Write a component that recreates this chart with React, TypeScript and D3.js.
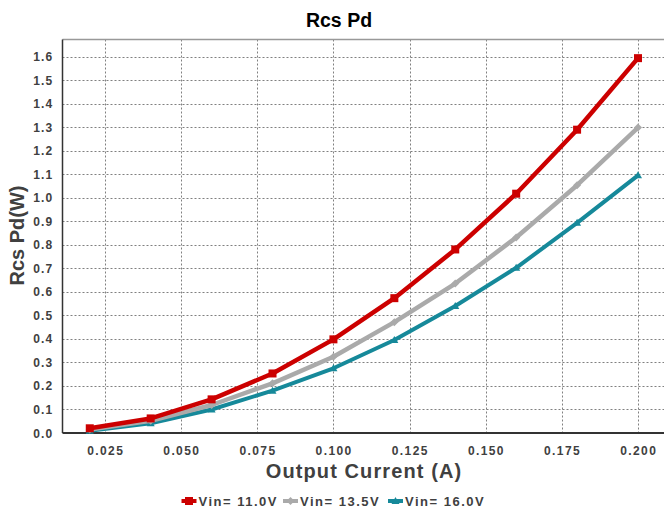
import React from "react";
import * as d3 from "d3";

const currents = [0.02, 0.04, 0.06, 0.08, 0.1, 0.12, 0.14, 0.16, 0.18, 0.2];
const vin110 = [0.02, 0.062, 0.143, 0.253, 0.398, 0.573, 0.78, 1.017, 1.289, 1.593];
const vin135 = [0.015, 0.052, 0.119, 0.211, 0.324, 0.471, 0.635, 0.831, 1.053, 1.298];
const vin160 = [0.01, 0.041, 0.1, 0.18, 0.275, 0.395, 0.54, 0.702, 0.893, 1.095];
const xTicks = [0.025, 0.05, 0.075, 0.1, 0.125, 0.15, 0.175, 0.2];
const yTicks = [0, 0.1, 0.2, 0.3, 0.4, 0.5, 0.6, 0.7, 0.8, 0.9, 1.0, 1.1, 1.2, 1.3, 1.4, 1.5, 1.6];
const seriesNames = ["Vin= 11.0V", "Vin= 13.5V", "Vin= 16.0V"];

const W = 664;
const H = 516;
const left = 62.5;
const right = 664;
const top = 39.5;
const bottom = 433;

export default function App() {
  const x = d3.scaleLinear().domain([0.025, 0.2]).range([105, 638]);
  const y = d3.scaleLinear().domain([0, 1.6]).range([bottom, 56.5]);
  const line = d3
    .line<number>()
    .x((_, i) => x(currents[i]))
    .y((d) => y(d));

  const series = [
    { name: seriesNames[0], values: vin110, color: "#cc0000", width: 4.5, marker: "square" },
    { name: seriesNames[1], values: vin135, color: "#aaaaaa", width: 4.5, marker: "diamond" },
    { name: seriesNames[2], values: vin160, color: "#16899a", width: 4, marker: "triangle" },
  ];
  const drawOrder = [2, 1, 0];

  const marker = (kind: string, cx: number, cy: number, color: string, key: string) => {
    if (kind === "square")
      return <rect key={key} x={cx - 4} y={cy - 4} width={8} height={8} fill={color} />;
    if (kind === "diamond")
      return (
        <path key={key} d={`M${cx},${cy - 4}L${cx + 4},${cy}L${cx},${cy + 4}L${cx - 4},${cy}Z`} fill={color} />
      );
    return (
      <path key={key} d={`M${cx},${cy - 4}L${cx + 4},${cy + 3}L${cx - 4},${cy + 3}Z`} fill={color} />
    );
  };

  const legendX = [181.5, 283, 388];
  const font = "'Liberation Sans', Arial, sans-serif";

  return (
    <svg
      width={W}
      height={H}
      style={{ position: "absolute", left: 0, top: 0, background: "#fff" }}
      fontFamily={font}
    >
      <rect x={0} y={0} width={W} height={H} fill="#fff" />
      {/* gridlines */}
      {yTicks.slice(1).map((t) => (
        <line
          key={"gy" + t}
          x1={left}
          x2={right}
          y1={Math.round(y(t)) + 0.5}
          y2={Math.round(y(t)) + 0.5}
          stroke="#808080"
          strokeWidth={1}
          strokeDasharray="2,2"
        />
      ))}
      {xTicks.map((t) => (
        <line
          key={"gx" + t}
          x1={Math.round(x(t)) + 0.5}
          x2={Math.round(x(t)) + 0.5}
          y1={top}
          y2={bottom}
          stroke="#808080"
          strokeWidth={1}
          strokeDasharray="2,2"
        />
      ))}
      {/* frame */}
      <line x1={left} x2={right} y1={top} y2={top} stroke="#999" strokeWidth={1.5} />
      <line x1={left} x2={left} y1={top} y2={bottom} stroke="#333" strokeWidth={1.5} />
      <line x1={left} x2={right} y1={bottom} y2={bottom} stroke="#333" strokeWidth={2} />

      {/* lines */}
      {drawOrder.map((si) => {
        const s = series[si];
        return (
          <g key={s.name}>
            <path d={line(s.values) || ""} fill="none" stroke={s.color} strokeWidth={s.width} strokeLinejoin="round" />
            {s.values.map((v, i) => marker(s.marker, x(currents[i]), y(v), s.color, s.name + i))}
          </g>
        );
      })}

      {/* y tick labels */}
      {yTicks.map((t) => (
        <text
          key={"yl" + t}
          x={53.5}
          y={y(t) + 4.5}
          textAnchor="end"
          fontSize={12}
          fontWeight="bold"
          fill="#404040"
          letterSpacing={1.2}
        >
          {t.toFixed(1)}
        </text>
      ))}
      {/* x tick labels */}
      {xTicks.map((t) => (
        <text
          key={"xl" + t}
          x={x(t) + 0.7}
          y={455}
          textAnchor="middle"
          fontSize={12}
          fontWeight="bold"
          fill="#404040"
          letterSpacing={1.4}
        >
          {t.toFixed(3)}
        </text>
      ))}

      {/* titles */}
      <text x={339} y={26.5} textAnchor="middle" fontSize={19.5} fontWeight="bold" fill="#000">
        Rcs Pd
      </text>
      <text
        x={364}
        y={477.5}
        textAnchor="middle"
        fontSize={20}
        fontWeight="bold"
        fill="#404040"
        letterSpacing={1.1}
      >
        Output Current (A)
      </text>
      <text
        transform={`translate(24,235.5) rotate(-90)`}
        textAnchor="middle"
        fontSize={20}
        fontWeight="bold"
        fill="#404040"
      >
        Rcs Pd(W)
      </text>

      {/* legend */}
      {series.map((s, i) => (
        <g key={"lg" + i}>
          <line x1={legendX[i]} x2={legendX[i] + 15} y1={501} y2={501} stroke={s.color} strokeWidth={4} />
          {marker(s.marker, legendX[i] + 7.5, 501, s.color, "lm" + i)}
          <text x={legendX[i] + 17} y={506} fontSize={13} fontWeight="bold" fill="#404040" letterSpacing={1.5}>
            {s.name}
          </text>
        </g>
      ))}
    </svg>
  );
}
